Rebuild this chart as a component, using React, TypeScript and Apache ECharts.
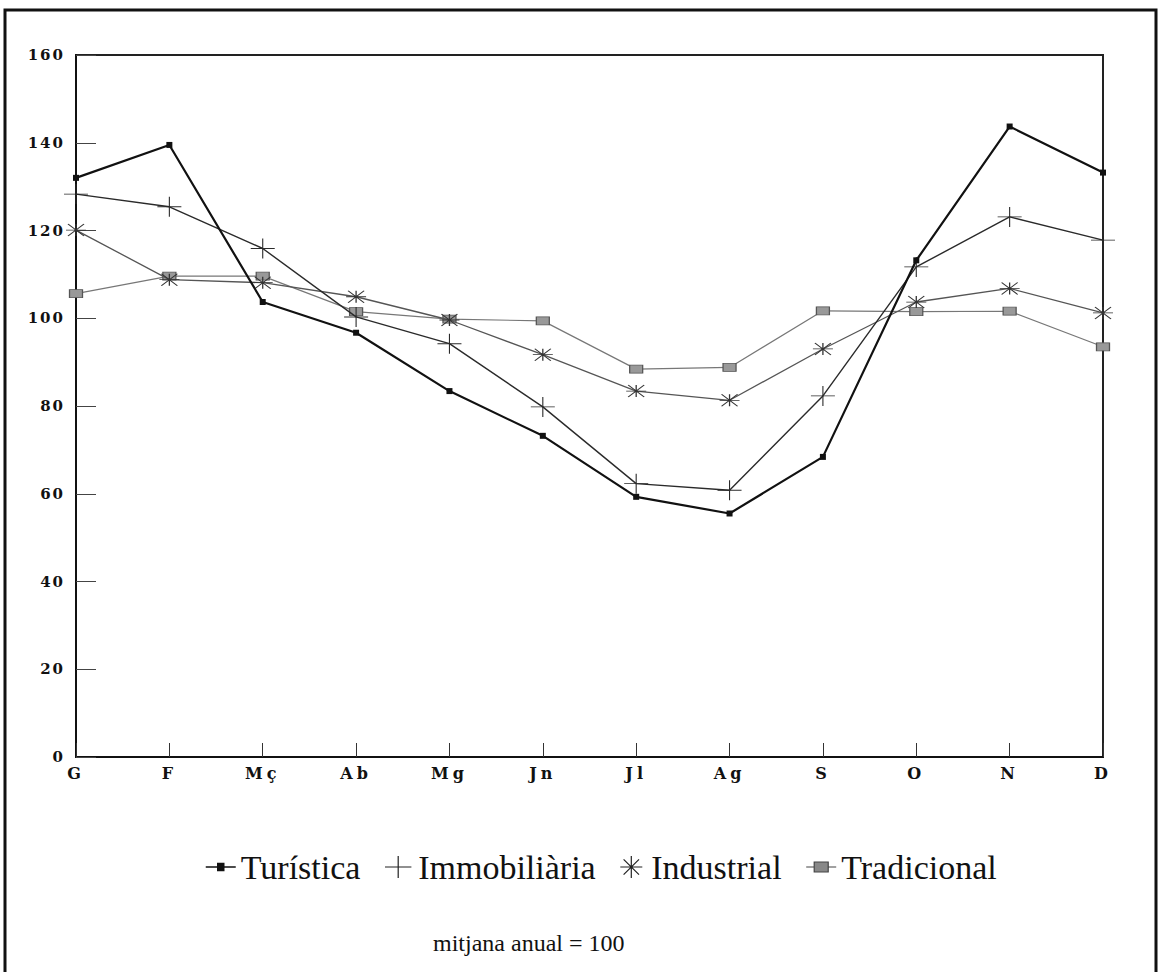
import React, { useEffect, useRef } from "react";
import * as echarts from "echarts";

const months = ["G", "F", "Mç", "Ab", "Mg", "Jn", "Jl", "Ag", "S", "O", "N", "D"];
const yTicks = { min: 0, max: 160, interval: 20 };

const turistica = [132, 139.5, 103.7, 96.7, 83.4, 73.2, 59.3, 55.5, 68.4, 113.2, 143.7, 133.2];
const immobiliaria = [128.3, 125.4, 115.9, 100.3, 94.2, 79.8, 62.3, 60.8, 82.3, 111.7, 123.1, 117.8];
const industrial = [120.1, 108.8, 108.1, 104.9, 99.6, 91.7, 83.4, 81.3, 93.0, 103.7, 106.8, 101.2];
const tradicional = [105.6, 109.6, 109.6, 101.5, 99.8, 99.4, 88.4, 88.8, 101.7, 101.5, 101.6, 93.5];

const seriesNames = ["Turística", "Immobiliària", "Industrial", "Tradicional"];
const note = "mitjana anual = 100";

const AXIS_FONT = "'DejaVu Serif', serif";
const TEXT_FONT = "'Liberation Serif', serif";

export default function App() {
  const ref = useRef<HTMLDivElement>(null);

  useEffect(() => {
    if (!ref.current) return;
    const chart = echarts.init(ref.current, undefined, { renderer: "svg" });
    const option: any = {
      animation: false,
      backgroundColor: "#ffffff",
      graphic: [
        {
          type: "rect",
          shape: { x: 5, y: 10, width: 1151, height: 1000 },
          style: { fill: "none", stroke: "#111", lineWidth: 3 },
          z: -1,
          silent: true,
        },
      ],
      title: {
        text: note,
        left: 428,
        top: 926,
        textStyle: {
          fontFamily: TEXT_FONT,
          fontSize: 24,
          fontWeight: "normal",
          color: "#111",
        },
      },
      legend: {
        left: 200,
        top: 845,
        itemWidth: 30,
        itemHeight: 22,
        itemGap: 24,
        textStyle: { fontFamily: TEXT_FONT, fontSize: 34, color: "#111" },
        data: [
          {
            name: seriesNames[0],
            icon: "path://M0,10H30M12,6.5H18V13.5H12Z",
            itemStyle: { color: "#111", borderColor: "#111", borderWidth: 1.5 },
          },
          {
            name: seriesNames[1],
            icon: "path://M0,10H24M12,0V20",
            itemStyle: { color: "#222", borderColor: "#222", borderWidth: 1.2 },
          },
          {
            name: seriesNames[2],
            icon: "path://M0,10H20M10,0V20M3,3L17,17M17,3L3,17",
            itemStyle: { color: "#222", borderColor: "#222", borderWidth: 1.2 },
          },
          {
            name: seriesNames[3],
            icon: "path://M0,10H8M22,10H30M8,5H22V15H8Z",
            itemStyle: { color: "#888", borderColor: "#444", borderWidth: 1.2 },
          },
        ],
      },
      grid: {
        left: 76,
        top: 55,
        right: 61,
        bottom: 215,
        show: true,
        borderColor: "#222",
        borderWidth: 2,
        containLabel: false,
      },
      xAxis: {
        type: "category",
        data: months,
        boundaryGap: false,
        axisLine: { show: true, lineStyle: { color: "#111", width: 2 } },
        axisTick: { show: true, inside: true, length: 14, alignWithLabel: true, lineStyle: { color: "#333", width: 1 } },
        axisLabel: {
          fontFamily: AXIS_FONT,
          fontWeight: "bold",
          fontSize: 16,
          color: "#111",
          margin: 8,
          interval: 0,
        },
        splitLine: { show: false },
      },
      yAxis: {
        type: "value",
        min: yTicks.min,
        max: yTicks.max,
        interval: yTicks.interval,
        axisLine: { show: true, lineStyle: { color: "#111", width: 2 } },
        axisTick: { show: true, inside: true, length: 20, lineStyle: { color: "#444", width: 1 } },
        axisLabel: {
          fontFamily: AXIS_FONT,
          fontWeight: "bold",
          fontSize: 15,
          color: "#111",
          margin: 11,
        },
        splitLine: { show: false },
      },
      series: [
        {
          name: seriesNames[0],
          type: "line",
          data: turistica,
          symbol: "rect",
          symbolSize: 6,
          lineStyle: { color: "#111", width: 2.2 },
          itemStyle: { color: "#111" },
          z: 5,
        },
        {
          name: seriesNames[1],
          type: "line",
          data: immobiliaria,
          symbol: "path://M0,10H24M12,0V20",
          symbolSize: [24, 20],
          lineStyle: { color: "#2a2a2a", width: 1.4 },
          itemStyle: { color: "#2a2a2a", borderColor: "#2a2a2a", borderWidth: 1 },
          z: 4,
        },
        {
          name: seriesNames[2],
          type: "line",
          data: industrial,
          symbol: "path://M0,6H20M10,0V12M2,0L18,12M18,0L2,12",
          symbolSize: [20, 12],
          lineStyle: { color: "#555", width: 1.3 },
          itemStyle: { color: "#333", borderColor: "#333", borderWidth: 1 },
          z: 3,
        },
        {
          name: seriesNames[3],
          type: "line",
          data: tradicional,
          symbol: "rect",
          symbolSize: [13, 8],
          lineStyle: { color: "#777", width: 1.2 },
          itemStyle: { color: "#999", borderColor: "#555", borderWidth: 1 },
          z: 2,
        },
      ],
    };
    chart.setOption(option);
    return () => chart.dispose();
  }, []);

  return (
    <>
      <style>{`#chartbox text[style*="DejaVu"][style*="15px"] { letter-spacing: 2px; } #chartbox text[style*="DejaVu"][style*="16px"] { letter-spacing: 4px; }`}</style>
      <div
        id="chartbox"
        ref={ref}
        style={{ position: "absolute", left: 0, top: 0, width: 1164, height: 972, background: "#fff" }}
      />
    </>
  );
}
